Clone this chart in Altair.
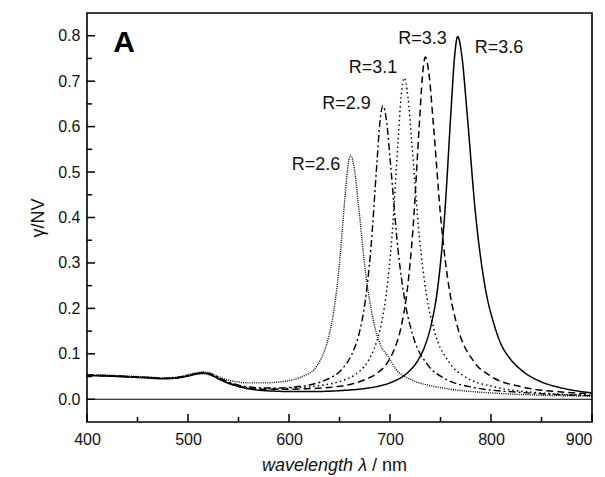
import altair as alt
import pandas as pd

FONT = "Liberation Sans"

series = ["R=2.6", "R=2.9", "R=3.1", "R=3.3", "R=3.6"]

lam_26 = [400, 420, 440, 460, 475, 490, 500, 508, 515, 522, 530, 540, 550, 560, 575, 590, 604, 615, 625, 631, 637,
          643, 649, 655, 658, 661, 664.75, 668.5, 676, 683.5, 691, 698, 706, 721, 740, 760, 800, 850, 900]
val_26 = [0.054, 0.053, 0.051, 0.049, 0.047, 0.049, 0.054, 0.058, 0.060, 0.058, 0.050, 0.042, 0.038, 0.036, 0.036,
          0.038, 0.043, 0.052, 0.066, 0.086, 0.119, 0.176, 0.276, 0.433, 0.506, 0.537, 0.506, 0.433, 0.275, 0.174,
          0.117, 0.095, 0.066, 0.043, 0.030, 0.022, 0.014, 0.009, 0.007]

lam_29 = [400, 420, 440, 460, 475, 490, 500, 508, 515, 522, 530, 540, 550, 560, 575, 590, 604, 621, 637, 654, 662,
          669, 675, 681, 687, 690, 693, 696.75, 700.5, 708, 715.5, 723, 738, 753, 783, 830, 900]
val_29 = [0.053, 0.052, 0.050, 0.048, 0.046, 0.048, 0.053, 0.057, 0.059, 0.056, 0.048, 0.038, 0.031, 0.027, 0.025,
          0.025, 0.027, 0.032, 0.043, 0.070, 0.098, 0.141, 0.209, 0.330, 0.519, 0.609, 0.646, 0.609, 0.518, 0.328,
          0.207, 0.138, 0.074, 0.047, 0.026, 0.015, 0.008]

lam_31 = [400, 420, 440, 460, 475, 490, 500, 508, 515, 522, 530, 540, 550, 560, 575, 590, 604, 630, 654, 666, 678,
          684, 690, 696, 702, 708, 711, 714, 717.75, 721.5, 729, 736.5, 744, 759, 774, 804, 850, 900]
val_31 = [0.053, 0.052, 0.050, 0.048, 0.046, 0.048, 0.052, 0.056, 0.058, 0.055, 0.047, 0.037, 0.030, 0.025, 0.023,
          0.023, 0.025, 0.030, 0.042, 0.055, 0.083, 0.110, 0.152, 0.227, 0.360, 0.568, 0.666, 0.707, 0.666, 0.568,
          0.359, 0.225, 0.150, 0.080, 0.050, 0.027, 0.014, 0.009]

lam_33 = [400, 420, 440, 460, 475, 490, 500, 508, 515, 522, 530, 540, 550, 560, 575, 590, 615, 639, 663, 675, 687,
          699, 705, 711, 717, 723, 729, 732, 735, 739, 743, 751, 759, 767, 783, 799, 831, 870, 900]
val_33 = [0.053, 0.052, 0.050, 0.048, 0.046, 0.048, 0.052, 0.056, 0.058, 0.055, 0.046, 0.036, 0.029, 0.024, 0.022,
          0.022, 0.023, 0.026, 0.034, 0.043, 0.057, 0.086, 0.114, 0.159, 0.239, 0.382, 0.604, 0.708, 0.753, 0.708,
          0.603, 0.381, 0.238, 0.158, 0.083, 0.052, 0.027, 0.016, 0.012]

lam_36 = [400, 420, 440, 460, 475, 490, 500, 508, 515, 522, 530, 540, 550, 560, 570, 585, 604, 625, 650, 676, 689,
          702, 715, 728, 734.5, 741, 747.5, 754, 760.5, 763.75, 767, 771.5, 776, 785, 794, 803, 809, 819, 829, 848,
          868, 900]
val_36 = [0.052, 0.051, 0.049, 0.047, 0.045, 0.047, 0.051, 0.055, 0.057, 0.054, 0.045, 0.035, 0.028, 0.023, 0.020,
          0.018, 0.017, 0.017, 0.019, 0.024, 0.029, 0.038, 0.054, 0.087, 0.117, 0.166, 0.250, 0.402, 0.638, 0.749,
          0.798, 0.749, 0.638, 0.401, 0.249, 0.165, 0.126, 0.089, 0.066, 0.040, 0.026, 0.014]

label_lam = [626.7, 657.0, 683.2, 732.2, 808.0]
label_val = [0.516, 0.649, 0.730, 0.792, 0.772]

x_major = [400, 500, 600, 700, 800, 900]
x_minor = [450, 550, 650, 750, 850]
y_major = [0.0, 0.1, 0.2, 0.3, 0.4, 0.5, 0.6, 0.7, 0.8]
y_minor = [0.05, 0.15, 0.25, 0.35, 0.45, 0.55, 0.65, 0.75]

dashes = [[1, 1.2], [7, 3, 2, 3], [1.5, 3], [7, 4], [1, 0]]
widths = [1.4, 1.5, 1.6, 1.5, 1.8]

rows = []
for name, lams, vals in zip(series, [lam_26, lam_29, lam_31, lam_33, lam_36],
                            [val_26, val_29, val_31, val_33, val_36]):
    for l, v in zip(lams, vals):
        rows.append({"series": name, "lam": l, "val": v})
df = pd.DataFrame(rows)

W, H = 505, 409
xs = alt.Scale(domain=[400, 900], nice=False, zero=False)
ys = alt.Scale(domain=[-0.05, 0.85], nice=False, zero=False)

x_axis = alt.Axis(values=x_major, format="d", ticks=False, tickSize=0, labelPadding=9,
                  labelFlush=False, labelAlign=alt.ExprRef("datum.value == 900 ? 'right' : 'center'"),
                  domain=False, grid=False, labelFontSize=16, labelFont=FONT,
                  labelColor="#111", title=None)
y_axis = alt.Axis(values=y_major, format=".1f", ticks=False, tickSize=0, labelPadding=7,
                  domain=False, grid=False, labelFontSize=16, labelFont=FONT,
                  labelColor="#111", title="γ/NV", titleFont=FONT, titleFontSize=18,
                  titleFontWeight="normal", titleColor="#111", titlePadding=10)


def X(field):
    return alt.X(field, scale=xs, axis=x_axis, title=None)


def Y(field):
    return alt.Y(field, scale=ys, axis=y_axis, title="γ/NV")


lines = alt.Chart(df).mark_line(interpolate="monotone", color="black", clip=True).encode(
    x=X("lam:Q"),
    y=Y("val:Q"),
    strokeDash=alt.StrokeDash("series:N", scale=alt.Scale(domain=series, range=dashes), legend=None),
    strokeWidth=alt.StrokeWidth("series:N", scale=alt.Scale(domain=series, range=widths), legend=None),
)

zero = alt.Chart(pd.DataFrame({"val": [0.0]})).mark_rule(color="black", strokeWidth=1).encode(
    y=Y("val:Q"))

xmaj = alt.Chart(pd.DataFrame({"lam": x_major})).mark_rule(color="black", strokeWidth=1.5).encode(
    x=X("lam:Q"), y=alt.value(H), y2=alt.value(H - 8))
xmin = alt.Chart(pd.DataFrame({"lam": x_minor})).mark_rule(color="black", strokeWidth=1.5).encode(
    x=X("lam:Q"), y=alt.value(H), y2=alt.value(H - 5))
ymaj = alt.Chart(pd.DataFrame({"val": y_major})).mark_rule(color="black", strokeWidth=1.5).encode(
    y=Y("val:Q"), x=alt.value(0), x2=alt.value(8))
ymin = alt.Chart(pd.DataFrame({"val": y_minor})).mark_rule(color="black", strokeWidth=1.5).encode(
    y=Y("val:Q"), x=alt.value(0), x2=alt.value(5))

labels = alt.Chart(pd.DataFrame({"t": series, "lam": label_lam, "val": label_val})).mark_text(
    font=FONT, fontSize=18, color="#111", align="center", baseline="middle").encode(
    x=X("lam:Q"), y=Y("val:Q"), text="t:N")

panel = alt.Chart(pd.DataFrame({"t": ["A"], "lam": [436.6], "val": [0.783]})).mark_text(
    font=FONT, fontSize=30, fontWeight="bold", color="black", align="center", baseline="middle").encode(
    x=X("lam:Q"), y=Y("val:Q"), text="t:N")

xt1 = alt.Chart(pd.DataFrame({"t": ["wavelength λ"]})).mark_text(
    font=FONT, fontSize=18, fontStyle="italic", color="#111", align="right", baseline="middle").encode(
    x=alt.value(280), y=alt.value(453), text="t:N")
xt2 = alt.Chart(pd.DataFrame({"t": ["/ nm"]})).mark_text(
    font=FONT, fontSize=18, color="#111", align="left", baseline="middle").encode(
    x=alt.value(285), y=alt.value(453), text="t:N")

chart = alt.layer(lines, zero, xmaj, xmin, ymaj, ymin, labels, panel, xt1, xt2).properties(
    width=W, height=H,
    padding={"left": 79, "top": 5, "right": 5, "bottom": 55},
    autosize=alt.AutoSizeParams(type="none"),
    background="white",
).configure_view(stroke="black", strokeWidth=1.6)

chart.save("out.html", embed_options={"renderer": "svg", "actions": False})
